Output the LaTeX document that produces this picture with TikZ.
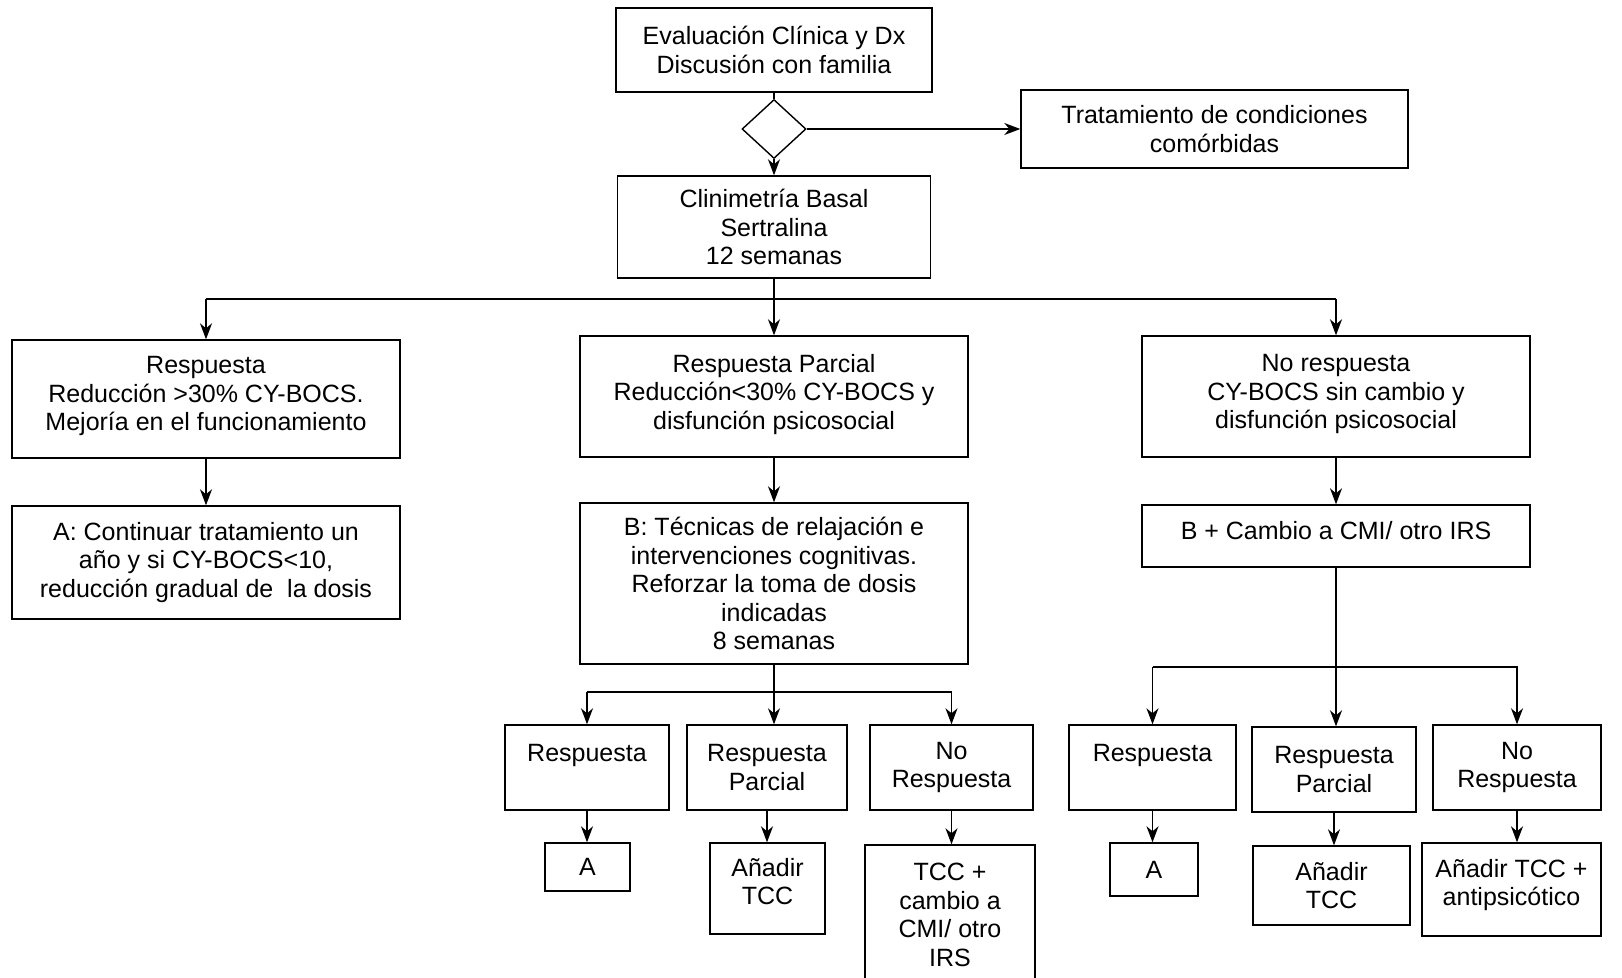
\documentclass[tikz,border=0pt]{standalone}
\usepackage{fontspec}
\setmainfont{Liberation Sans}
\usetikzlibrary{arrows.meta,shapes.geometric}
\tikzset{
  caja/.style={draw, line width=1.4pt, align=center, inner sep=0pt,
    font=\fontsize{25}{28.5}\selectfont},
  rombo/.style={diamond, draw, line width=1.4pt, inner sep=0pt,
    minimum width=64pt, minimum height=59pt},
  flecha/.style={-{Stealth[length=16pt,width=12pt,inset=5pt]}, line width=1.4pt},
  linea/.style={line width=1.4pt}
}
\newcommand{\BusY}{299}
\begin{document}
\begin{tikzpicture}[x=1pt,y=-1pt]
  \useasboundingbox (0,0) rectangle (1622,977);
  % evaluacion inicial
  \node[caja, minimum width=316pt, minimum height=84pt] (eval) at (774,50)
    {Evaluación Clínica y Dx\\Discusión con familia};
  \node[rombo] (dec) at (774,129) {};
  \node[caja, minimum width=387pt, minimum height=78pt] (trat) at (1214.5,129)
    {Tratamiento de condiciones\\comórbidas};
  \node[caja, minimum width=313pt, minimum height=102pt] (clin) at (774,227)
    {Clinimetría Basal\\Sertralina\\12 semanas};
  % tres ramas
  \node[caja, minimum width=388pt, minimum height=118pt] (resp) at (206,399)
    {Respuesta\\Reducción >30\% CY-BOCS.\\Mejoría en el funcionamiento\\[-18pt]};
  \node[caja, minimum width=388pt, minimum height=121pt] (parc) at (774,396.5)
    {Respuesta Parcial\\Reducción<30\% CY-BOCS y\\disfunción psicosocial\\[-19pt]};
  \node[caja, minimum width=388pt, minimum height=121pt] (nores) at (1336,396.5)
    {No respuesta\\CY-BOCS sin cambio y\\disfunción psicosocial\\[-19pt]};
  \node[caja, minimum width=388pt, minimum height=113pt] (contA) at (206,562.5)
    {A: Continuar tratamiento un\\año y si CY-BOCS<10,\\reducción gradual de\ \ la dosis};
  \node[caja, minimum width=388pt, minimum height=161pt] (tecB) at (774,583.5)
    {B: Técnicas de relajación e\\intervenciones cognitivas.\\Reforzar la toma de dosis\\indicadas\\8 semanas};
  \node[caja, minimum width=388pt, minimum height=62pt] (camb) at (1336,536)
    {B + Cambio a CMI/ otro IRS\\[-18pt]};
  % segundo nivel, rama B
  \node[caja, minimum width=164pt, minimum height=85pt] (bR) at (587,767.5)
    {Respuesta\\\mbox{}};
  \node[caja, minimum width=160pt, minimum height=85pt] (bP) at (767,767.5)
    {Respuesta\\Parcial};
  \node[caja, minimum width=163pt, minimum height=85pt] (bN) at (951.5,767.5)
    {No\\Respuesta};
  \node[caja, minimum width=85pt, minimum height=48pt] (bRa) at (587.5,867) {A};
  \node[caja, minimum width=115pt, minimum height=91pt] (bPa) at (767.5,888.5)
    {Añadir\\TCC\\[-14pt]};
  \node[caja, minimum width=170pt, minimum height=140pt] (bNa) at (950,915)
    {TCC +\\cambio a\\CMI/ otro\\IRS};
  % segundo nivel, rama cambio
  \node[caja, minimum width=167pt, minimum height=85pt] (cR) at (1152.5,767.5)
    {Respuesta\\\mbox{}};
  \node[caja, minimum width=164pt, minimum height=85pt] (cP) at (1334,769.5)
    {Respuesta\\Parcial};
  \node[caja, minimum width=168pt, minimum height=85pt] (cN) at (1517,767.5)
    {No\\Respuesta};
  \node[caja, minimum width=88pt, minimum height=53pt] (cRa) at (1154,869.5) {A};
  \node[caja, minimum width=157pt, minimum height=79pt] (cPa) at (1331.5,885.5)
    {Añadir\\TCC};
  \node[caja, minimum width=179pt, minimum height=93pt] (cNa) at (1511.5,889.5)
    {Añadir TCC +\\antipsicótico\\[-14pt]};
  % conectores
  \draw[linea] (eval.south) -- (dec.north);
  \draw[flecha] (dec.south) -- (clin.north);
  \draw[flecha] (dec.east) -- (trat.west);
  \draw[linea] (clin.south) -- (clin.south |- 0,\BusY);
  \draw[flecha] (resp.north |- 0,\BusY) -- (resp.north);
  \draw[linea] (resp.north |- 0,\BusY) -- (nores.north |- 0,\BusY);
  \draw[flecha] (clin.south |- 0,\BusY) -- (parc.north);
  \draw[flecha] (nores.north |- 0,\BusY) -- (nores.north);
  \draw[flecha] (resp.south) -- (contA.north);
  \draw[flecha] (parc.south) -- (tecB.north);
  \draw[flecha] (nores.south) -- (camb.north);
  % ramas inferiores
  \draw[flecha] (tecB.south) -- (tecB.south |- bP.north);
  \draw[flecha] (bR.north |- 0,692) -| (bR.north);
  \draw[flecha] (bR.north |- 0,692) -| (bN.north);
  \draw[flecha] (camb.south) -- (camb.south |- cP.north);
  \draw[flecha] (cR.north |- 0,667) -| (cR.north);
  \draw[flecha] (cR.north |- 0,667) -| (cN.north);
  \foreach \a/\b in {bR/bRa, bP/bPa, bN/bNa, cR/cRa, cP/cPa, cN/cNa}
    \draw[flecha] (\a.south) -- (\a.south |- \b.north);
\end{tikzpicture}
\end{document}
